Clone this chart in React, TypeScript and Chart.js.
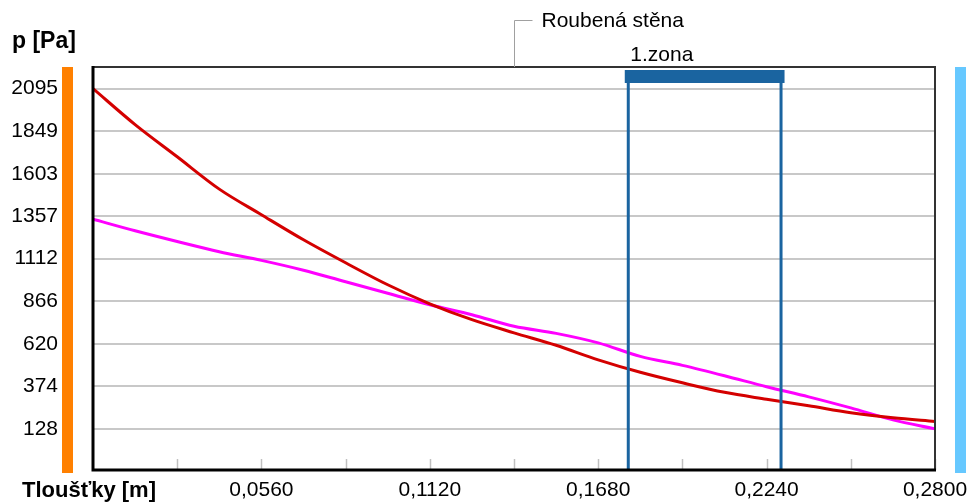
import React, { useEffect, useRef } from 'react';
import { Chart, registerables } from 'chart.js';

Chart.register(...registerables);

// Thickness positions [m]
const xValues = [0, 0.014, 0.028, 0.042, 0.056, 0.07, 0.084, 0.098, 0.112, 0.126, 0.14, 0.154, 0.168, 0.182, 0.196, 0.21, 0.224, 0.238, 0.252, 0.266, 0.28];
// Red curve [Pa]
const redValues = [2095, 1887, 1701, 1514, 1366, 1221, 1088, 961, 851, 759, 683, 611, 527, 455, 394, 339, 299, 261, 221, 192, 171];
// Magenta curve [Pa]
const magentaValues = [1340, 1273, 1211, 1152, 1102, 1045, 978, 912, 845, 788, 721, 680, 625, 547, 495, 435, 371, 313, 249, 180, 128];

// Axis ticks
const yTickValues = [128, 374, 620, 866, 1112, 1357, 1603, 1849, 2095];
const yTickLabels = ['128', '374', '620', '866', '1112', '1357', '1603', '1849', '2095'];
const xTickValues = [0.028, 0.056, 0.084, 0.112, 0.14, 0.168, 0.196, 0.224, 0.252, 0.28];
const xTickLabels = ['', '0,0560', '', '0,1120', '', '0,1680', '', '0,2240', '', '0,2800'];

// Annotations
const yAxisTitle = 'p [Pa]';
const xAxisTitle = 'Tloušťky [m]';
const wallLabel = 'Roubená stěna';
const wallLabelX = 0.14;
const zoneLabel = '1.zona';
const zoneStart = 0.178;
const zoneEnd = 0.2288;

const FONT = "'Liberation Sans', Arial, sans-serif";

const decorPlugin = {
  id: 'decor',
  afterDraw(chart: any) {
    const { ctx, chartArea } = chart;
    const xs = chart.scales.x;
    const { left, right, top, bottom } = chartArea;
    ctx.save();

    // minor tick marks inside bottom
    ctx.strokeStyle = '#c0c0c0';
    ctx.lineWidth = 1.5;
    xTickValues.forEach((v) => {
      const px = Math.round(xs.getPixelForValue(v)) + 0.5;
      ctx.beginPath();
      ctx.moveTo(px, bottom - 11);
      ctx.lineTo(px, bottom);
      ctx.stroke();
    });

    // zone
    const z1 = xs.getPixelForValue(zoneStart);
    const z2 = xs.getPixelForValue(zoneEnd);
    ctx.strokeStyle = '#1a64a0';
    ctx.lineWidth = 3;
    [z1, z2].forEach((px) => {
      ctx.beginPath();
      ctx.moveTo(px, top + 10);
      ctx.lineTo(px, bottom);
      ctx.stroke();
    });
    ctx.fillStyle = '#1a64a0';
    ctx.fillRect(z1 - 3.5, top + 3, z2 - z1 + 7, 13);

    // frame
    ctx.strokeStyle = '#333333';
    ctx.lineWidth = 2;
    ctx.beginPath();
    ctx.moveTo(left, top);
    ctx.lineTo(right, top);
    ctx.lineTo(right, bottom);
    ctx.stroke();
    ctx.strokeStyle = '#000000';
    ctx.lineWidth = 3;
    ctx.beginPath();
    ctx.moveTo(left, top - 1);
    ctx.lineTo(left, bottom);
    ctx.lineTo(right + 1, bottom);
    ctx.stroke();

    // side bars
    ctx.fillStyle = '#ff8000';
    ctx.fillRect(left - 31, top, 11, bottom - top + 3);
    ctx.fillStyle = '#66c8ff';
    ctx.fillRect(right + 20, top, 11, bottom - top + 3);

    // wall bracket
    const wx = Math.round(xs.getPixelForValue(wallLabelX)) + 0.5;
    ctx.strokeStyle = '#a0a0a0';
    ctx.lineWidth = 1;
    ctx.beginPath();
    ctx.moveTo(wx + 18, 20.5);
    ctx.lineTo(wx, 20.5);
    ctx.lineTo(wx, top);
    ctx.stroke();

    // texts
    ctx.fillStyle = '#000';
    ctx.textBaseline = 'middle';
    ctx.textAlign = 'left';
    ctx.font = `21px ${FONT}`;
    ctx.fillText(wallLabel, wx + 27, 21);
    ctx.fillText(zoneLabel, z1 + 2, 55);
    ctx.font = `bold 23px ${FONT}`;
    ctx.fillText(yAxisTitle, 12, 42);
    ctx.font = `bold 22px ${FONT}`;
    ctx.fillText(xAxisTitle, 22, 491);
    ctx.restore();
  },
};

export default function App() {
  const canvasRef = useRef<HTMLCanvasElement | null>(null);

  useEffect(() => {
    const canvas = canvasRef.current;
    if (!canvas) return;
    const chart = new Chart(canvas, {
      type: 'line',
      data: {
        datasets: [
          {
            label: 'red',
            data: xValues.map((x, i) => ({ x, y: redValues[i] })),
            borderColor: '#d40000',
            borderWidth: 3,
            pointRadius: 0,
            cubicInterpolationMode: 'monotone',
          },
          {
            label: 'magenta',
            data: xValues.map((x, i) => ({ x, y: magentaValues[i] })),
            borderColor: '#ff00ff',
            borderWidth: 3,
            pointRadius: 0,
            cubicInterpolationMode: 'monotone',
          },
        ],
      },
      options: {
        responsive: false,
        animation: false,
        layout: { padding: { top: 67, right: 37, left: 0, bottom: 0 } },
        plugins: { legend: { display: false }, tooltip: { enabled: false }, title: { display: false } },
        scales: {
          x: {
            type: 'linear',
            min: 0,
            max: 0.28,
            afterBuildTicks: (scale: any) => {
              scale.ticks = xTickValues.map((v) => ({ value: v }));
            },
            afterFit: (scale: any) => {
              scale.height = 34;
              scale.paddingLeft = 0;
              scale.paddingRight = 0;
            },
            grid: { display: false, drawTicks: false },
            border: { display: false },
            ticks: {
              autoSkip: false,
              maxRotation: 0,
              padding: 8,
              color: '#000',
              font: { family: FONT, size: 21 },
              callback: (_v: any, i: number) => xTickLabels[i],
            },
          },
          y: {
            type: 'linear',
            min: -110,
            max: 2220,
            afterBuildTicks: (scale: any) => {
              scale.ticks = yTickValues.map((v) => ({ value: v }));
            },
            afterFit: (scale: any) => {
              scale.width = 93;
              scale.paddingTop = 0;
              scale.paddingBottom = 0;
            },
            grid: { color: '#c8c8c8', lineWidth: 2, drawTicks: false },
            border: { display: false },
            ticks: {
              padding: 35,
              color: '#000',
              font: { family: FONT, size: 21 },
              callback: (_v: any, i: number) => yTickLabels[i],
            },
          },
        },
      },
      plugins: [decorPlugin],
    });
    return () => chart.destroy();
  }, []);

  return (
    <div style={{ position: 'fixed', left: 0, top: 0, width: 972, height: 504, background: '#fff' }}>
      <canvas ref={canvasRef} width={972} height={504} style={{ display: 'block' }} />
    </div>
  );
}
